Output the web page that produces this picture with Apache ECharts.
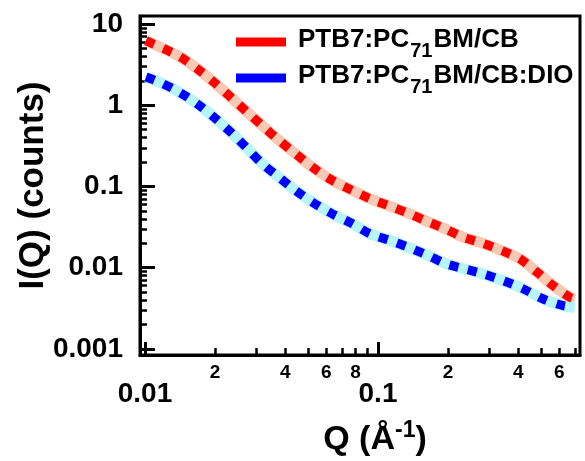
<!DOCTYPE html>
<html><head><meta charset="utf-8">
<script src="https://cdn.jsdelivr.net/npm/echarts@6/dist/echarts.min.js"></script>
<style>html,body{margin:0;padding:0;background:#fff}#c{width:585px;height:461px}</style>
</head><body><div id="c"></div>
<script>
// ---- data ----
const qRed  = [0.0101, 0.0140, 0.0171, 0.0201, 0.0237, 0.0279, 0.0324, 0.0376, 0.0443, 0.0523, 0.0637, 0.0777, 0.0925, 0.1107, 0.135, 0.162, 0.194, 0.232, 0.274, 0.340, 0.407, 0.488, 0.565, 0.667, 0.700];
const iRed  = [6.25, 4.03, 2.70, 1.85, 1.21, 0.790, 0.539, 0.370, 0.253, 0.173, 0.1186, 0.0893, 0.0705, 0.0582, 0.0468, 0.0373, 0.0301, 0.0237, 0.0205, 0.0162, 0.0128, 0.00851, 0.0060, 0.0043, 0.0041];
const qBlue = [0.0101, 0.01148, 0.0140, 0.0171, 0.0201, 0.0237, 0.0271, 0.0319, 0.0376, 0.0443, 0.0523, 0.0637, 0.0777, 0.0925, 0.1128, 0.135, 0.1644, 0.197, 0.236, 0.283, 0.345, 0.421, 0.512, 0.624, 0.700];
const iBlue = [2.23, 1.94, 1.46, 1.0, 0.685, 0.448, 0.306, 0.1906, 0.130, 0.0893, 0.0640, 0.0460, 0.0347, 0.0261, 0.0216, 0.0178, 0.01407, 0.01111, 0.00964, 0.00836, 0.00691, 0.00546, 0.00411, 0.00340, 0.00324];
const seriesNames = ['PTB7:PC71BM/CB', 'PTB7:PC71BM/CB:DIO'];
const xRange = [0.00952, 0.736];
const yRange = [0.000839, 12.6];
const xMajorTicks = [0.01, 0.1];
const xMinorTicks = [0.02, 0.03, 0.04, 0.05, 0.06, 0.07, 0.08, 0.09, 0.2, 0.3, 0.4, 0.5, 0.6, 0.7];
const xLabelValues = [0.01, 0.02, 0.04, 0.06, 0.08, 0.1, 0.2, 0.4, 0.6];
const xDecadeLabels = [0.01, 0.1];
const yMajorTicks = [0.001, 0.01, 0.1, 1, 10];
const yMinorTicks = [0.002, 0.003, 0.004, 0.005, 0.006, 0.007, 0.008, 0.009,
                     0.02, 0.03, 0.04, 0.05, 0.06, 0.07, 0.08, 0.09,
                     0.2, 0.3, 0.4, 0.5, 0.6, 0.7, 0.8, 0.9,
                     2, 3, 4, 5, 6, 7, 8, 9];

const FONT = "'Liberation Sans', Arial, sans-serif";
const pairs = (q, v) => q.map((x, k) => [x, v[k]]);
const legendFmt = name => {
  const p = name.split('PC71');
  return '{n|' + p[0] + 'PC}{s|71}{n|' + p[1] + '}';
};
const legendRich = {
  n: {fontSize: 26, fontWeight: 'bold', fontFamily: FONT, color: '#000', lineHeight: 30, verticalAlign: 'top'},
  s: {fontSize: 20, fontWeight: 'bold', fontFamily: FONT, color: '#000', lineHeight: 20, padding: [14, 1, 0, 1], verticalAlign: 'top'}
};
const isDecade = v => xDecadeLabels.some(d => Math.abs(d - v) < 1e-9);

const chart = echarts.init(document.getElementById('c'), null, {renderer: 'canvas'});
const axisCommon = {type: 'log', logBase: 10, splitLine: {show: false}, minorTick: {show: false}, minorSplitLine: {show: false}};
chart.setOption({
  animation: false,
  backgroundColor: '#fff',
  grid: {left: 140, top: 16, right: 5, bottom: 106, show: true, borderColor: '#000', borderWidth: 3, backgroundColor: 'transparent', outerBoundsMode: 'none', containLabel: false},
  legend: seriesNames.map((nm, k) => ({
    data: [nm], orient: 'vertical', left: 236, top: 27 + k * 36, padding: 0,
    icon: 'rect', itemWidth: 50, itemHeight: 9,
    itemStyle: {borderWidth: 0},
    formatter: legendFmt,
    textStyle: {rich: legendRich, padding: [0, 0, 0, 7]},
    selectedMode: false
  })),
  xAxis: [
    Object.assign({}, axisCommon, {
      min: xRange[0], max: xRange[1], position: 'bottom',
      axisLine: {show: true, lineStyle: {color: '#000', width: 3}},
      axisTick: {show: true, inside: true, length: 13, lineStyle: {color: '#000', width: 3}, customValues: xMajorTicks},
      axisLabel: {
        customValues: xLabelValues, margin: 8, color: '#000',
        formatter: v => isDecade(v) ? '{big|' + (Math.abs(v - 0.1) < 1e-9 ? '0.1' : '0.01') + '}' : '{small|' + Math.round(v / (v < 0.1 ? 0.01 : 0.1)) + '}',
        rich: {
          big: {fontSize: 28, fontWeight: 'bold', fontFamily: FONT, color: '#000', padding: [17, 0, 0, 0]},
          small: {fontSize: 19, fontWeight: 'bold', fontFamily: FONT, color: '#000'}
        }
      },
      name: '{t|Q (Å}{sup|-1}{t|)}', nameLocation: 'middle', nameGap: 64, nameMoveOverlap: false,
      nameTextStyle: {padding: [0, 0, 0, 30], rich: {
        t: {fontSize: 34, fontWeight: 'bold', fontFamily: FONT, color: '#000', lineHeight: 38, verticalAlign: 'bottom'},
        sup: {fontSize: 23, fontWeight: 'bold', fontFamily: FONT, color: '#000', lineHeight: 23, verticalAlign: 'top'}
      }}
    }),
    Object.assign({}, axisCommon, {
      min: xRange[0], max: xRange[1], position: 'bottom',
      axisLine: {show: false},
      axisTick: {show: true, inside: true, length: 7, lineStyle: {color: '#000', width: 2.5}, customValues: xMinorTicks},
      axisLabel: {show: false}
    })
  ],
  yAxis: [
    Object.assign({}, axisCommon, {
      min: yRange[0], max: yRange[1], position: 'left',
      axisLine: {show: true, lineStyle: {color: '#000', width: 3}},
      axisTick: {show: true, inside: true, length: 15, lineStyle: {color: '#000', width: 3}, customValues: yMajorTicks},
      axisLabel: {customValues: yMajorTicks, margin: 17, color: '#000', fontSize: 28, fontWeight: 'bold', fontFamily: FONT,
                  formatter: v => String(v)},
      name: 'I(Q) (counts)', nameLocation: 'middle', nameRotate: 90, nameGap: 89, nameMoveOverlap: false,
      nameTextStyle: {fontSize: 35, fontWeight: 'bold', fontFamily: FONT, color: '#000'}
    }),
    Object.assign({}, axisCommon, {
      min: yRange[0], max: yRange[1], position: 'left',
      axisLine: {show: false},
      axisTick: {show: true, inside: true, length: 7, lineStyle: {color: '#000', width: 2.5}, customValues: yMinorTicks},
      axisLabel: {show: false}
    })
  ],
  series: [
    {name: 'fit-red', type: 'line', data: pairs(qRed, iRed), showSymbol: false, smooth: 0.3, silent: true, z: 2,
     lineStyle: {color: '#F9C9B4', width: 11}, itemStyle: {color: '#F9C9B4'}},
    {name: 'fit-blue', type: 'line', data: pairs(qBlue, iBlue), showSymbol: false, smooth: 0.3, silent: true, z: 2,
     lineStyle: {color: '#B6F5F8', width: 11}, itemStyle: {color: '#B6F5F8'}},
    {name: seriesNames[0], type: 'line', data: pairs(qRed, iRed), showSymbol: false, smooth: 0.3, z: 3,
     color: '#FF0000', lineStyle: {color: '#FF0000', width: 9, type: [9, 10], cap: 'butt'}, itemStyle: {color: '#FF0000'}},
    {name: seriesNames[1], type: 'line', data: pairs(qBlue, iBlue), showSymbol: false, smooth: 0.3, z: 3,
     color: '#0000FF', lineStyle: {color: '#0000FF', width: 9, type: [9, 10], cap: 'butt'}, itemStyle: {color: '#0000FF'}}
  ]
});
</script></body></html>
